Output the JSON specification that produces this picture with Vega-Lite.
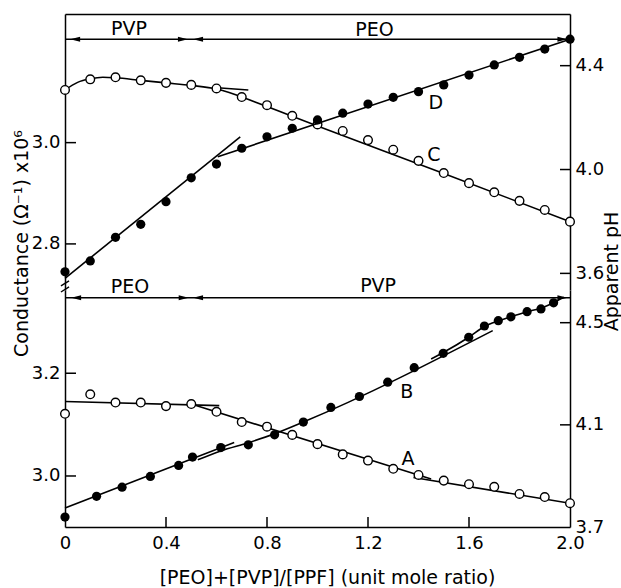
{
  "$schema": "https://vega.github.io/schema/vega-lite/v6.json",
  "background": "white",
  "padding": {"left": 12, "top": 14, "right": 0, "bottom": 0},
  "autosize": {"type": "pad"},
  "bounds": "flush",
  "spacing": 0,
  "datasets": {
    "pts": [
      {"s":"C","x":0,"v":3.104},{"s":"C","x":0.1,"v":3.125},{"s":"C","x":0.2,"v":3.129},{"s":"C","x":0.3,"v":3.123},{"s":"C","x":0.4,"v":3.118},{"s":"C","x":0.5,"v":3.114},{"s":"C","x":0.6,"v":3.107},{"s":"C","x":0.7,"v":3.090},{"s":"C","x":0.8,"v":3.074},{"s":"C","x":0.9,"v":3.053},{"s":"C","x":1.0,"v":3.036},{"s":"C","x":1.1,"v":3.023},{"s":"C","x":1.2,"v":3.005},{"s":"C","x":1.3,"v":2.986},{"s":"C","x":1.4,"v":2.964},{"s":"C","x":1.5,"v":2.940},{"s":"C","x":1.6,"v":2.920},{"s":"C","x":1.7,"v":2.902},{"s":"C","x":1.8,"v":2.885},{"s":"C","x":1.9,"v":2.867},{"s":"C","x":2.0,"v":2.844},
      {"s":"D","x":0,"v":3.606},{"s":"D","x":0.1,"v":3.648},{"s":"D","x":0.2,"v":3.739},{"s":"D","x":0.3,"v":3.789},{"s":"D","x":0.4,"v":3.876},{"s":"D","x":0.5,"v":3.968},{"s":"D","x":0.6,"v":4.021},{"s":"D","x":0.7,"v":4.082},{"s":"D","x":0.8,"v":4.126},{"s":"D","x":0.9,"v":4.159},{"s":"D","x":1.0,"v":4.191},{"s":"D","x":1.1,"v":4.217},{"s":"D","x":1.2,"v":4.252},{"s":"D","x":1.3,"v":4.278},{"s":"D","x":1.4,"v":4.300},{"s":"D","x":1.5,"v":4.326},{"s":"D","x":1.6,"v":4.364},{"s":"D","x":1.7,"v":4.403},{"s":"D","x":1.8,"v":4.432},{"s":"D","x":1.9,"v":4.464},{"s":"D","x":2.0,"v":4.502},
      {"s":"A","x":0,"v":3.121},{"s":"A","x":0.1,"v":3.159},{"s":"A","x":0.2,"v":3.143},{"s":"A","x":0.3,"v":3.143},{"s":"A","x":0.4,"v":3.136},{"s":"A","x":0.5,"v":3.140},{"s":"A","x":0.6,"v":3.125},{"s":"A","x":0.7,"v":3.105},{"s":"A","x":0.8,"v":3.096},{"s":"A","x":0.9,"v":3.080},{"s":"A","x":1.0,"v":3.062},{"s":"A","x":1.1,"v":3.042},{"s":"A","x":1.2,"v":3.030},{"s":"A","x":1.3,"v":3.014},{"s":"A","x":1.4,"v":3.002},{"s":"A","x":1.5,"v":2.991},{"s":"A","x":1.6,"v":2.984},{"s":"A","x":1.7,"v":2.979},{"s":"A","x":1.8,"v":2.965},{"s":"A","x":1.9,"v":2.959},{"s":"A","x":2.0,"v":2.947},
      {"s":"B","x":0,"v":3.739},{"s":"B","x":0.125,"v":3.820},{"s":"B","x":0.226,"v":3.856},{"s":"B","x":0.338,"v":3.898},{"s":"B","x":0.45,"v":3.941},{"s":"B","x":0.505,"v":3.974},{"s":"B","x":0.617,"v":4.011},{"s":"B","x":0.726,"v":4.022},{"s":"B","x":0.83,"v":4.061},{"s":"B","x":0.944,"v":4.111},{"s":"B","x":1.053,"v":4.168},{"s":"B","x":1.166,"v":4.211},{"s":"B","x":1.278,"v":4.267},{"s":"B","x":1.383,"v":4.324},{"s":"B","x":1.498,"v":4.380},{"s":"B","x":1.599,"v":4.443},{"s":"B","x":1.661,"v":4.487},{"s":"B","x":1.716,"v":4.508},{"s":"B","x":1.766,"v":4.523},{"s":"B","x":1.83,"v":4.543},{"s":"B","x":1.885,"v":4.554},{"s":"B","x":1.935,"v":4.578}
    ],
    "fit": [
      {"s":"C1","x":0,"v":3.104},{"s":"C1","x":0.05,"v":3.119},{"s":"C1","x":0.1,"v":3.126},{"s":"C1","x":0.15,"v":3.129},{"s":"C1","x":0.2,"v":3.128},{"s":"C1","x":0.3,"v":3.123},{"s":"C1","x":0.4,"v":3.118},{"s":"C1","x":0.5,"v":3.113},{"s":"C1","x":0.6,"v":3.106},{"s":"C1","x":0.65,"v":3.099},{"s":"C1","x":0.7,"v":3.090},{"s":"C1","x":1.0,"v":3.033},{"s":"C1","x":1.5,"v":2.939},{"s":"C1","x":2.0,"v":2.844},
      {"s":"C2","x":0.59,"v":3.109},{"s":"C2","x":0.726,"v":3.104},
      {"s":"D1","x":0,"v":3.581},{"s":"D1","x":0.694,"v":4.126},
      {"s":"D2","x":0.605,"v":4.049},{"s":"D2","x":2.0,"v":4.502},
      {"s":"A1","x":0,"v":3.145},{"s":"A1","x":0.611,"v":3.137},
      {"s":"A2","x":0.5,"v":3.140},{"s":"A2","x":1.45,"v":2.994},
      {"s":"A3","x":1.38,"v":2.997},{"s":"A3","x":2.0,"v":2.947},
      {"s":"B1","x":0,"v":3.774},{"s":"B1","x":0.67,"v":4.031},
      {"s":"B2","x":0.526,"v":3.963},{"s":"B2","x":0.617,"v":3.998},{"s":"B2","x":0.726,"v":4.03},{"s":"B2","x":0.83,"v":4.065},{"s":"B2","x":0.944,"v":4.111},{"s":"B2","x":1.694,"v":4.469},
      {"s":"B3","x":1.45,"v":4.358},{"s":"B3","x":1.498,"v":4.383},{"s":"B3","x":1.599,"v":4.443},{"s":"B3","x":1.661,"v":4.485},{"s":"B3","x":1.716,"v":4.507},{"s":"B3","x":1.766,"v":4.523},{"s":"B3","x":1.83,"v":4.543},{"s":"B3","x":1.885,"v":4.557},{"s":"B3","x":1.935,"v":4.578},{"s":"B3","x":1.975,"v":4.6}
    ],
    "arr": [
      {"panel":"top","x":0,"x2":2.0,"v":3.204},
      {"panel":"bottom","x":0,"x2":2.0,"v":3.347}
    ],
    "heads": [
      {"panel":"top","x":0.04,"v":3.204,"dir":"L"},{"panel":"top","x":0.467,"v":3.204,"dir":"R"},{"panel":"top","x":0.527,"v":3.204,"dir":"L"},{"panel":"top","x":1.97,"v":3.204,"dir":"R"},
      {"panel":"bottom","x":0.044,"v":3.347,"dir":"L"},{"panel":"bottom","x":0.47,"v":3.347,"dir":"R"},{"panel":"bottom","x":0.527,"v":3.347,"dir":"L"},{"panel":"bottom","x":1.97,"v":3.347,"dir":"R"}
    ],
    "txt": [
      {"panel":"top","axis":"left","t":"C","x":1.461,"v":2.976},
      {"panel":"top","axis":"left","t":"PVP","x":0.2535,"v":3.225},
      {"panel":"top","axis":"left","t":"PEO","x":1.226,"v":3.222},
      {"panel":"top","axis":"right","t":"D","x":1.469,"v":4.258},
      {"panel":"bottom","axis":"left","t":"A","x":1.358,"v":3.033},
      {"panel":"bottom","axis":"left","t":"PEO","x":0.257,"v":3.368},
      {"panel":"bottom","axis":"left","t":"PVP","x":1.24,"v":3.37},
      {"panel":"bottom","axis":"right","t":"B","x":1.354,"v":4.23}
    ],
    "brk": [
      {"x":-0.016,"x2":0.016,"v":2.717,"v2":2.727},
      {"x":-0.016,"x2":0.016,"v":2.705,"v2":2.715}
    ],
    "yticks": [
      {"panel":"top","axis":"left","x":0,"v":2.8},{"panel":"top","axis":"left","x":0,"v":3.0},
      {"panel":"top","axis":"right","x":2,"v":3.6},{"panel":"top","axis":"right","x":2,"v":4.0},{"panel":"top","axis":"right","x":2,"v":4.4},
      {"panel":"bottom","axis":"left","x":0,"v":3.0},{"panel":"bottom","axis":"left","x":0,"v":3.2},
      {"panel":"bottom","axis":"right","x":2,"v":4.1},{"panel":"bottom","axis":"right","x":2,"v":4.5}
    ],
    "xticks": [
      {"x":0.4,"v":2.9007},{"x":0.8,"v":2.9007},{"x":1.2,"v":2.9007},{"x":1.6,"v":2.9007}
    ]
  },
  "vconcat": [
    {
      "width": 505,
      "height": 276,
      "encoding": {
        "x": {"field":"x","type":"quantitative","scale":{"domain":[0,2],"nice":false,"zero":false},
              "axis":{"orient":"top","labels":false,"ticks":false,"title":null}}
      },
      "layer": [
        {
          "encoding": {
            "y": {"field":"v","type":"quantitative","scale":{"domain":[2.709,3.254],"nice":false,"zero":false},
                  "axis":{"orient":"left","values":[2.8,3.0],"format":".1f","title":"Conductance (Ω⁻¹) x10⁶",
                          "titleX":-44,"titleY":229,"titleAngle":-90,"titleAlign":"center","titleBaseline":"middle"}}
          },
          "layer": [
            {"data":{"name":"fit"},"transform":[{"filter":"datum.s=='C1'||datum.s=='C2'"}],
             "mark":{"type":"line","color":"black","strokeWidth":1.6,"interpolate":"monotone"},
             "encoding":{"detail":{"field":"s"}}},
            {"data":{"name":"pts"},"transform":[{"filter":"datum.s=='C'"}],
             "mark":{"type":"point","shape":"circle","filled":true,"fill":"white","stroke":"black","strokeWidth":1.4,"size":75,"opacity":1}},
            {"data":{"name":"arr"},"transform":[{"filter":"datum.panel=='top'"}],
             "mark":{"type":"rule","color":"black","strokeWidth":1.6},
             "encoding":{"x2":{"field":"x2"}}},
            {"data":{"name":"heads"},"transform":[{"filter":"datum.panel=='top'"}],
             "mark":{"type":"point","filled":true,"color":"black","size":100,"opacity":1},
             "encoding":{"shape":{"field":"dir","type":"nominal","scale":{"domain":["L","R"],"range":["M-1,0L1,-0.5L1,0.5Z","M1,0L-1,-0.5L-1,0.5Z"]},"legend":null}}},
            {"data":{"name":"txt"},"transform":[{"filter":"datum.panel=='top'&&datum.axis=='left'"}],
             "mark":{"type":"text","color":"black","font":"DejaVu Sans","fontSize":19},
             "encoding":{"text":{"field":"t"}}},
            {"data":{"name":"brk"},
             "mark":{"type":"rule","color":"black","strokeWidth":1.4},
             "encoding":{"x2":{"field":"x2"},"y2":{"field":"v2"}}},
            {"data":{"name":"yticks"},"transform":[{"filter":"datum.panel=='top'&&datum.axis=='left'"}],
             "mark":{"type":"tick","orient":"horizontal","size":11,"thickness":1.5,"color":"black","opacity":1,"xOffset":5.5}}
          ]
        },
        {
          "encoding": {
            "y": {"field":"v","type":"quantitative","scale":{"domain":[3.536,4.599],"nice":false,"zero":false},
                  "axis":{"orient":"right","values":[3.6,4.0,4.4],"format":".1f","title":"Apparent pH",
                          "titleX":41,"titleY":257,"titleAngle":-90,"titleAlign":"center","titleBaseline":"middle"}}
          },
          "layer": [
            {"data":{"name":"fit"},"transform":[{"filter":"datum.s=='D1'||datum.s=='D2'"}],
             "mark":{"type":"line","color":"black","strokeWidth":1.6,"interpolate":"monotone"},
             "encoding":{"detail":{"field":"s"}}},
            {"data":{"name":"pts"},"transform":[{"filter":"datum.s=='D'"}],
             "mark":{"type":"point","shape":"circle","filled":true,"color":"black","size":85,"opacity":1}},
            {"data":{"name":"txt"},"transform":[{"filter":"datum.panel=='top'&&datum.axis=='right'"}],
             "mark":{"type":"text","color":"black","font":"DejaVu Sans","fontSize":19},
             "encoding":{"text":{"field":"t"}}},
            {"data":{"name":"yticks"},"transform":[{"filter":"datum.panel=='top'&&datum.axis=='right'"}],
             "mark":{"type":"tick","orient":"horizontal","size":10,"thickness":1.5,"color":"black","opacity":1,"xOffset":-5}}
          ]
        }
      ],
      "resolve": {"scale": {"y": "independent"}}
    },
    {
      "width": 505,
      "height": 237,
      "encoding": {
        "x": {"field":"x","type":"quantitative","scale":{"domain":[0,2],"nice":false,"zero":false},
              "axis":{"orient":"bottom","values":[0,0.4,0.8,1.2,1.6,2.0],"labelFlush":false,"labelPadding":7,
                      "labelExpr":"datum.value == 0 ? '0' : format(datum.value, '.1f')",
                      "title":"[PEO]+[PVP]/[PPF] (unit mole ratio)","titleX":262,"titleY":50,"titleAlign":"center","titleBaseline":"middle"}}
      },
      "layer": [
        {
          "encoding": {
            "y": {"field":"v","type":"quantitative","scale":{"domain":[2.9007,3.362],"nice":false,"zero":false},
                  "axis":{"orient":"left","values":[3.0,3.2],"format":".1f","title":null}}
          },
          "layer": [
            {"data":{"name":"fit"},"transform":[{"filter":"datum.s=='A1'||datum.s=='A2'||datum.s=='A3'"}],
             "mark":{"type":"line","color":"black","strokeWidth":1.6,"interpolate":"monotone"},
             "encoding":{"detail":{"field":"s"}}},
            {"data":{"name":"pts"},"transform":[{"filter":"datum.s=='A'"}],
             "mark":{"type":"point","shape":"circle","filled":true,"fill":"white","stroke":"black","strokeWidth":1.4,"size":75,"opacity":1}},
            {"data":{"name":"arr"},"transform":[{"filter":"datum.panel=='bottom'"}],
             "mark":{"type":"rule","color":"black","strokeWidth":1.6},
             "encoding":{"x2":{"field":"x2"}}},
            {"data":{"name":"heads"},"transform":[{"filter":"datum.panel=='bottom'"}],
             "mark":{"type":"point","filled":true,"color":"black","size":100,"opacity":1},
             "encoding":{"shape":{"field":"dir","type":"nominal","scale":{"domain":["L","R"],"range":["M-1,0L1,-0.5L1,0.5Z","M1,0L-1,-0.5L-1,0.5Z"]},"legend":null}}},
            {"data":{"name":"txt"},"transform":[{"filter":"datum.panel=='bottom'&&datum.axis=='left'"}],
             "mark":{"type":"text","color":"black","font":"DejaVu Sans","fontSize":19},
             "encoding":{"text":{"field":"t"}}},
            {"data":{"name":"yticks"},"transform":[{"filter":"datum.panel=='bottom'&&datum.axis=='left'"}],
             "mark":{"type":"tick","orient":"horizontal","size":11,"thickness":1.5,"color":"black","opacity":1,"xOffset":5.5}},
            {"data":{"name":"xticks"},
             "mark":{"type":"tick","orient":"vertical","size":10,"thickness":1.5,"color":"black","opacity":1,"yOffset":-5}}
          ]
        },
        {
          "encoding": {
            "y": {"field":"v","type":"quantitative","scale":{"domain":[3.7,4.628],"nice":false,"zero":false},
                  "axis":{"orient":"right","values":[3.7,4.1,4.5],"format":".1f","title":null}}
          },
          "layer": [
            {"data":{"name":"fit"},"transform":[{"filter":"datum.s=='B1'||datum.s=='B2'||datum.s=='B3'"}],
             "mark":{"type":"line","color":"black","strokeWidth":1.6,"interpolate":"monotone"},
             "encoding":{"detail":{"field":"s"}}},
            {"data":{"name":"pts"},"transform":[{"filter":"datum.s=='B'"}],
             "mark":{"type":"point","shape":"circle","filled":true,"color":"black","size":85,"opacity":1}},
            {"data":{"name":"txt"},"transform":[{"filter":"datum.panel=='bottom'&&datum.axis=='right'"}],
             "mark":{"type":"text","color":"black","font":"DejaVu Sans","fontSize":19},
             "encoding":{"text":{"field":"t"}}},
            {"data":{"name":"yticks"},"transform":[{"filter":"datum.panel=='bottom'&&datum.axis=='right'"}],
             "mark":{"type":"tick","orient":"horizontal","size":10,"thickness":1.5,"color":"black","opacity":1,"xOffset":-5}}
          ]
        }
      ],
      "resolve": {"scale": {"y": "independent"}}
    }
  ],
  "config": {
    "view": {"stroke": null},
    "axis": {
      "grid": false,
      "domainColor": "black", "domainWidth": 1.5,
      "ticks": false,
      "labelPadding": 5,
      "labelFont": "DejaVu Sans", "labelFontSize": 18, "labelColor": "black",
      "titleFont": "DejaVu Sans", "titleFontSize": 19, "titleFontWeight": "normal", "titleColor": "black"
    }
  }
}
